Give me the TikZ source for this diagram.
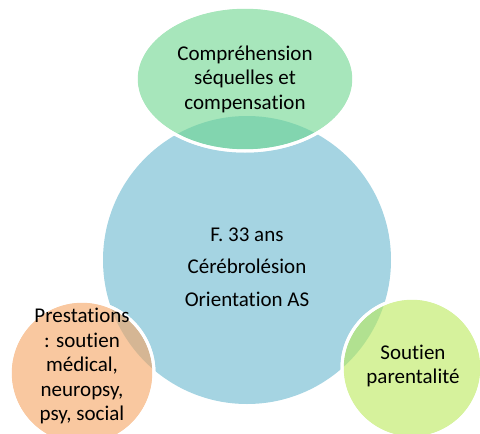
\documentclass[tikz,border=0pt]{standalone}
\usepackage{fontspec}
\setmainfont[RawFeature=-liga]{Carlito}
\definecolor{cblue}{RGB}{165,212,226}
\definecolor{cgreen}{RGB}{108,214,142}
\definecolor{corange}{RGB}{245,163,96}
\definecolor{clime}{RGB}{186,234,90}
\begin{document}
\begin{tikzpicture}[x=1pt,y=-1pt,
  sat/.style={draw=white,line width=3pt,fill opacity=0.6},
  lbl/.style={align=center,font=\fontsize{21}{24.5}\selectfont,text=black,inner sep=0pt}]
\useasboundingbox (0,0) rectangle (480,434);
\clip (0,0) rectangle (480,434);
\fill[cblue] (247,260) circle[radius=144];
\node[lbl,font=\fontsize{21}{32.5}\selectfont] (c) at (247,267) {F. 33 ans\\Cérébrolésion\\Orientation AS};
\fill[sat,fill=cgreen] (245,79) ellipse[x radius=109,y radius=72];
\draw[white,line width=3pt] (245,79) ellipse[x radius=109,y radius=72];
\node[lbl] (t) at (245,79) {Compréhension\\séquelles et\\compensation};
\fill[sat,fill=corange] (82,373) circle[radius=72];
\draw[white,line width=3pt] (82,373) circle[radius=72];
\node[lbl] (l) at (82,366) {Prestations\\: soutien\\médical,\\neuropsy,\\psy, social};
\fill[sat,fill=clime] (412,368) circle[radius=70];
\draw[white,line width=3pt] (412,368) circle[radius=70];
\node[lbl] (r) at (413,366) {Soutien\\parentalité};
\end{tikzpicture}
\end{document}
